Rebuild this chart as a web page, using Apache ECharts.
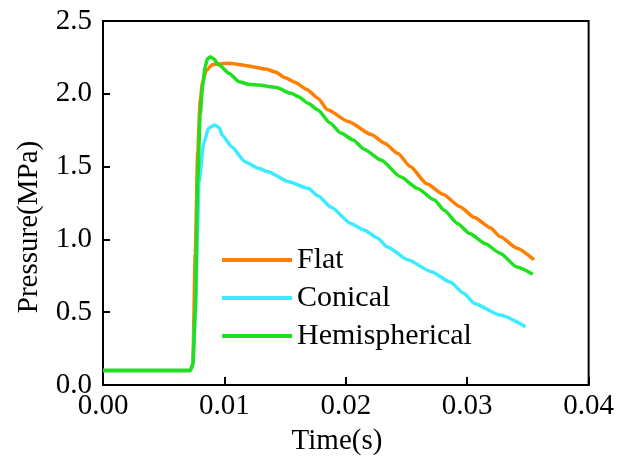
<!DOCTYPE html>
<html>
<head>
<meta charset="utf-8">
<script src="https://cdn.jsdelivr.net/npm/echarts@6/dist/echarts.min.js"></script>
<style>
  html, body { margin: 0; padding: 0; background: #fff; }
  #chart { width: 617px; height: 461px; }
</style>
</head>
<body>
<div id="chart"></div>
<script>
// 数据 [time(s), pressure(MPa)]
const seriesNames = ['Flat', 'Conical', 'Hemispherical']
const flatData = [
  [0, 0.1], [0.0072, 0.1], [0.0074, 0.15], [0.0076, 0.9], [0.0078, 1.6], [0.0080, 1.95],
  [0.0082, 2.08], [0.0085, 2.16], [0.0090, 2.2], [0.0096, 2.205], [0.0104, 2.21],
  [0.0117, 2.195], [0.0134, 2.17], [0.0142, 2.15], [0.0150, 2.11], [0.0158, 2.08],
  [0.0168, 2.03], [0.0177, 1.97], [0.0185, 1.89], [0.0202, 1.81], [0.0221, 1.72],
  [0.0232, 1.66], [0.0243, 1.59], [0.0253, 1.5], [0.0267, 1.38], [0.0280, 1.31],
  [0.0294, 1.225], [0.0306, 1.15], [0.0319, 1.08], [0.0327, 1.02], [0.0341, 0.94],
  [0.0355, 0.86]
]
const conicalData = [
  [0, 0.1], [0.0072, 0.1], [0.0074, 0.14], [0.0076, 0.5], [0.0078, 1.1], [0.0079, 1.387],
  [0.0083, 1.66], [0.0087, 1.765], [0.0092, 1.786], [0.0096, 1.765], [0.0098, 1.717],
  [0.0106, 1.637], [0.0117, 1.534], [0.0128, 1.488], [0.0136, 1.465], [0.0153, 1.396],
  [0.0169, 1.351], [0.0177, 1.30], [0.0188, 1.22], [0.0204, 1.11], [0.0215, 1.065],
  [0.0226, 1.01], [0.0234, 0.95], [0.0251, 0.86], [0.0270, 0.78], [0.0286, 0.707],
  [0.0297, 0.63], [0.0306, 0.56], [0.0327, 0.48], [0.0348, 0.40]
]
const hemiData = [
  [0, 0.1], [0.0072, 0.1], [0.0074, 0.14], [0.0076, 0.5], [0.0078, 1.4], [0.0080, 1.85],
  [0.0082, 2.05], [0.0084, 2.18], [0.0086, 2.24], [0.00885, 2.255], [0.0091, 2.24],
  [0.00956, 2.198], [0.0104, 2.14], [0.0112, 2.083], [0.0120, 2.065], [0.0128, 2.06],
  [0.0142, 2.045], [0.0155, 2.003], [0.0161, 1.98], [0.0169, 1.935], [0.0177, 1.889],
  [0.0187, 1.80], [0.0196, 1.73], [0.0206, 1.683], [0.0215, 1.62], [0.0229, 1.545],
  [0.0245, 1.43], [0.0259, 1.35], [0.0273, 1.27], [0.0281, 1.2], [0.0292, 1.11],
  [0.0302, 1.04], [0.0315, 0.97], [0.0327, 0.905], [0.0341, 0.81], [0.0354, 0.76]
]
const colors = ['#FF7F00', '#3CEBFF', '#1EE01E']

const font = 'Liberation Serif, Times New Roman, serif'
const chart = echarts.init(document.getElementById('chart'))

function makeSeries (name, data, color) {
  return {
    name: name,
    type: 'line',
    data: data,
    symbol: 'none',
    smooth: 0.2,
    smoothMonotone: 'x',
    lineStyle: { color: color, width: 3.5 },
    itemStyle: { color: color }
  }
}

const option = {
  animation: false,
  backgroundColor: '#fff',
  grid: {
    left: 103,
    right: 23,
    top: 21,
    bottom: 76,
    show: true,
    borderColor: '#000',
    borderWidth: 2
  },
  legend: {
    orient: 'vertical',
    left: 222,
    top: 245,
    padding: 0,
    icon: 'rect',
    itemWidth: 70,
    itemHeight: 4,
    itemGap: 8,
    data: seriesNames,
    textStyle: { fontFamily: font, fontSize: 30, color: '#000' }
  },
  xAxis: {
    type: 'value',
    min: 0,
    max: 0.04,
    interval: 0.01,
    splitLine: { show: false },
    axisLine: { lineStyle: { color: '#000', width: 2 } },
    axisTick: { inside: true, length: 8, lineStyle: { color: '#000', width: 2 } },
    axisLabel: {
      margin: 7,
      fontFamily: font,
      fontSize: 29,
      color: '#000',
      formatter: v => v.toFixed(2)
    }
  },
  yAxis: {
    type: 'value',
    min: 0,
    max: 2.5,
    interval: 0.5,
    splitLine: { show: false },
    axisLine: { show: true, lineStyle: { color: '#000', width: 2 } },
    axisTick: { show: true, inside: true, length: 7, lineStyle: { color: '#000', width: 2 } },
    axisLabel: {
      margin: 11,
      fontFamily: font,
      fontSize: 29,
      color: '#000',
      formatter: v => v.toFixed(1)
    }
  },
  // 坐标轴标题
  graphic: [
    {
      type: 'text',
      x: 337,
      y: 441,
      style: {
        text: 'Time(s)',
        align: 'center',
        verticalAlign: 'middle',
        font: '29px ' + font,
        fill: '#000'
      }
    },
    {
      type: 'text',
      x: 29,
      y: 227,
      rotation: Math.PI / 2,
      style: {
        text: 'Pressure(MPa)',
        align: 'center',
        verticalAlign: 'middle',
        font: '29px ' + font,
        fill: '#000'
      }
    }
  ],
  series: [
    makeSeries(seriesNames[0], flatData, colors[0]),
    makeSeries(seriesNames[1], conicalData, colors[1]),
    makeSeries(seriesNames[2], hemiData, colors[2])
  ]
}
chart.setOption(option)
</script>
</body>
</html>
